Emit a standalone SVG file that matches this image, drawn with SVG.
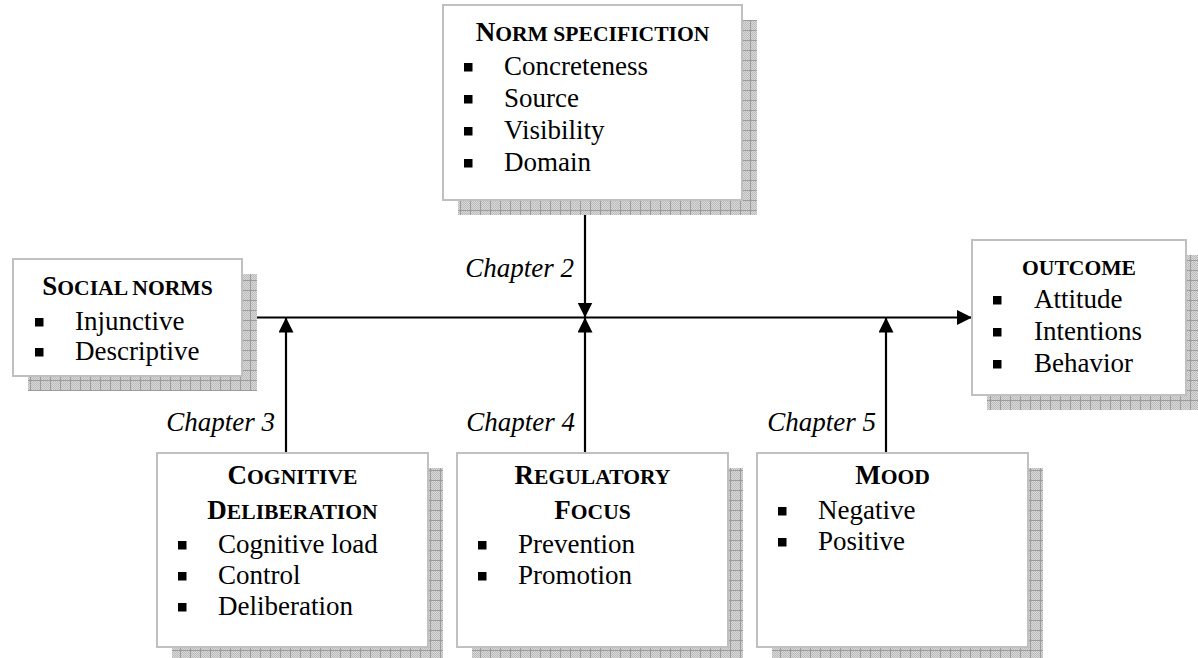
<svg xmlns="http://www.w3.org/2000/svg" width="1198" height="658" viewBox="0 0 1198 658">
<style>
.box{fill:#fff;stroke:#c0c0c0;stroke-width:2}
.sh{fill:url(#grid)}
.t{font-family:"Liberation Serif","Times New Roman",serif;font-size:27px;fill:#000}
.ti{font-family:"Liberation Serif","Times New Roman",serif;font-size:27px;font-weight:bold;fill:#000;text-anchor:middle}
.sc{font-size:21.6px}
.ch{font-family:"Liberation Serif","Times New Roman",serif;font-size:27px;font-style:italic;fill:#000;text-anchor:end}
.b{fill:#000}
.ln{stroke:#000;stroke-width:2.2;fill:none;marker-end:url(#ah)}
</style>
<defs>
<pattern id="dots" width="2" height="2" patternUnits="userSpaceOnUse"><rect width="2" height="2" fill="#d8d8d8"/><rect width="1" height="1" fill="#bcbcbc"/><rect x="1" y="1" width="1" height="1" fill="#bcbcbc"/></pattern>
<pattern id="grid" width="10" height="10" patternUnits="userSpaceOnUse"><rect width="10" height="10" fill="url(#dots)"/><path d="M0,0.5H10M0.5,0V10" stroke="#9c9c9c" stroke-width="1"/></pattern>
<marker id="ah" markerUnits="userSpaceOnUse" markerWidth="15" markerHeight="15" refX="15" refY="7.5" orient="auto"><path d="M0,0L15,7.5L0,15z" fill="#000"/></marker>
</defs>

<g id="connectors">
<path class="ln" d="M242,317.5H972"/>
<path class="ln" d="M585,200V317.5"/>
<path class="ln" d="M286,453V317.5"/>
<path class="ln" d="M585,453V317.5"/>
<path class="ln" d="M886,453V317.5"/>
<text class="ch" x="574" y="277">Chapter 2</text>
<text class="ch" x="275" y="431">Chapter 3</text>
<text class="ch" x="575" y="431">Chapter 4</text>
<text class="ch" x="876" y="431">Chapter 5</text>
</g>

<g id="norm-specification">
<rect class="sh" x="458" y="20" width="299" height="195"/>
<rect class="box" x="443" y="5" width="299" height="195"/>
<text class="ti" x="592.5" y="41">N<tspan class="sc">ORM SPECIFICTION</tspan></text>
<rect class="b" x="464" y="63" width="8.5" height="8.5"/><text class="t" x="504" y="75">Concreteness</text>
<rect class="b" x="464" y="95" width="8.5" height="8.5"/><text class="t" x="504" y="107">Source</text>
<rect class="b" x="464" y="127" width="8.5" height="8.5"/><text class="t" x="504" y="139">Visibility</text>
<rect class="b" x="464" y="159" width="8.5" height="8.5"/><text class="t" x="504" y="171">Domain</text>
</g>

<g id="social-norms">
<rect class="sh" x="28" y="274" width="229" height="117"/>
<rect class="box" x="13" y="259" width="229" height="117"/>
<text class="ti" x="127.5" y="295">S<tspan class="sc">OCIAL NORMS</tspan></text>
<rect class="b" x="35" y="318" width="8.5" height="8.5"/><text class="t" x="75" y="330">Injunctive</text>
<rect class="b" x="35" y="348" width="8.5" height="8.5"/><text class="t" x="75" y="360">Descriptive</text>
</g>

<g id="outcome">
<rect class="sh" x="987" y="255" width="214" height="155"/>
<rect class="box" x="972" y="240" width="214" height="155"/>
<text class="ti" x="1079" y="275"><tspan class="sc">OUTCOME</tspan></text>
<rect class="b" x="993" y="296" width="8.5" height="8.5"/><text class="t" x="1034" y="308">Attitude</text>
<rect class="b" x="993" y="328" width="8.5" height="8.5"/><text class="t" x="1034" y="340">Intentions</text>
<rect class="b" x="993" y="360" width="8.5" height="8.5"/><text class="t" x="1034" y="372">Behavior</text>
</g>

<g id="cognitive-deliberation">
<rect class="sh" x="172" y="468" width="271" height="194"/>
<rect class="box" x="157" y="453" width="271" height="194"/>
<text class="ti" x="292.5" y="484">C<tspan class="sc">OGNITIVE</tspan></text>
<text class="ti" x="292.5" y="519">D<tspan class="sc">ELIBERATION</tspan></text>
<rect class="b" x="178" y="541" width="8.5" height="8.5"/><text class="t" x="218" y="553">Cognitive load</text>
<rect class="b" x="178" y="572" width="8.5" height="8.5"/><text class="t" x="218" y="584">Control</text>
<rect class="b" x="178" y="603" width="8.5" height="8.5"/><text class="t" x="218" y="615">Deliberation</text>
</g>

<g id="regulatory-focus">
<rect class="sh" x="472" y="468" width="271" height="194"/>
<rect class="box" x="457" y="453" width="271" height="194"/>
<text class="ti" x="592.5" y="484">R<tspan class="sc">EGULATORY</tspan></text>
<text class="ti" x="592.5" y="519">F<tspan class="sc">OCUS</tspan></text>
<rect class="b" x="478" y="541" width="8.5" height="8.5"/><text class="t" x="518" y="553">Prevention</text>
<rect class="b" x="478" y="572" width="8.5" height="8.5"/><text class="t" x="518" y="584">Promotion</text>
</g>

<g id="mood">
<rect class="sh" x="772" y="468" width="271" height="194"/>
<rect class="box" x="757" y="453" width="271" height="194"/>
<text class="ti" x="892.5" y="484">M<tspan class="sc">OOD</tspan></text>
<rect class="b" x="778" y="507" width="8.5" height="8.5"/><text class="t" x="818" y="519">Negative</text>
<rect class="b" x="778" y="538" width="8.5" height="8.5"/><text class="t" x="818" y="550">Positive</text>
</g>
</svg>
